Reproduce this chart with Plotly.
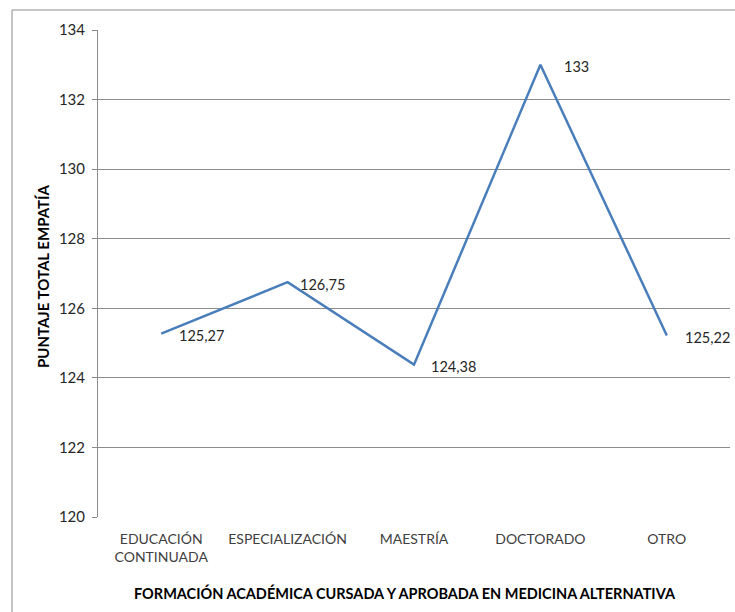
import plotly.graph_objects as go

categories = ["EDUCACIÓN<br>CONTINUADA", "ESPECIALIZACIÓN", "MAESTRÍA", "DOCTORADO", "OTRO"]
values = [125.27, 126.75, 124.38, 133, 125.22]
labels = [f"{v:g}".replace(".", ",") for v in values]
label_xshift = [16, 10, 15, 22, 16]

W, H = 735, 612
L, R, T, B = 98, 5, 30, 95
pw, ph = W - L - R, H - T - B
font = "Lato, Open Sans, sans-serif"

fig = go.Figure()
fig.add_trace(go.Scatter(
    x=categories, y=values, mode="lines",
    line=dict(color="#4A7EBB", width=2.5),
    cliponaxis=False, hoverinfo="skip", showlegend=False,
))

annotations = [
    dict(x=c, y=v, text=t, xref="x", yref="y", showarrow=False,
         xanchor="left", yanchor="middle", xshift=s, yshift=-2,
         font=dict(family=font, size=14.5, color="#262626"))
    for c, v, t, s in zip(categories, values, labels, label_xshift)
]
annotations += [
    dict(text="<b>FORMACIÓN ACADÉMICA CURSADA Y APROBADA EN MEDICINA ALTERNATIVA</b>",
         xref="paper", yref="paper", x=(405 - L) / pw, y=(T + ph - 593) / ph,
         showarrow=False, xanchor="center", yanchor="middle",
         font=dict(family=font, size=14.5, color="#000000")),
    dict(text="<b>PUNTAJE TOTAL EMPATÍA</b>",
         xref="paper", yref="paper", x=(43 - L) / pw, y=(T + ph - 276) / ph,
         showarrow=False, xanchor="center", yanchor="middle", textangle=-90,
         font=dict(family=font, size=15, color="#000000")),
]

fig.update_layout(
    width=W, height=H,
    margin=dict(l=L, r=R, t=T, b=B),
    paper_bgcolor="white", plot_bgcolor="white",
    font=dict(family=font, size=12, color="#262626"),
    xaxis=dict(
        type="category", showgrid=False, showline=False, zeroline=False,
        ticks="", tickfont=dict(size=14, color="#404040"), ticklabelstandoff=12,
        range=[-0.5, 4.5],
    ),
    yaxis=dict(
        range=[120, 134], dtick=2, showgrid=True, gridcolor="#8C8C8C", gridwidth=1,
        showline=True, linecolor="#8C8C8C", linewidth=1, ticks="outside",
        ticklen=5, tickcolor="#8C8C8C", zeroline=False,
        tickfont=dict(size=15, color="#262626"), ticklabelstandoff=4,
    ),
    annotations=annotations,
    shapes=[
        dict(type="line", xref="paper", yref="paper",
             x0=(12 - L) / pw, x1=(12 - L) / pw, y0=(T + ph - 10) / ph, y1=(T + ph - 620) / ph,
             line=dict(color="#8C8C8C", width=1)),
        dict(type="line", xref="paper", yref="paper",
             x0=(12 - L) / pw, x1=(740 - L) / pw, y0=(T + ph - 10) / ph, y1=(T + ph - 10) / ph,
             line=dict(color="#8C8C8C", width=1)),
    ],
)

fig.write_html("out.html")
